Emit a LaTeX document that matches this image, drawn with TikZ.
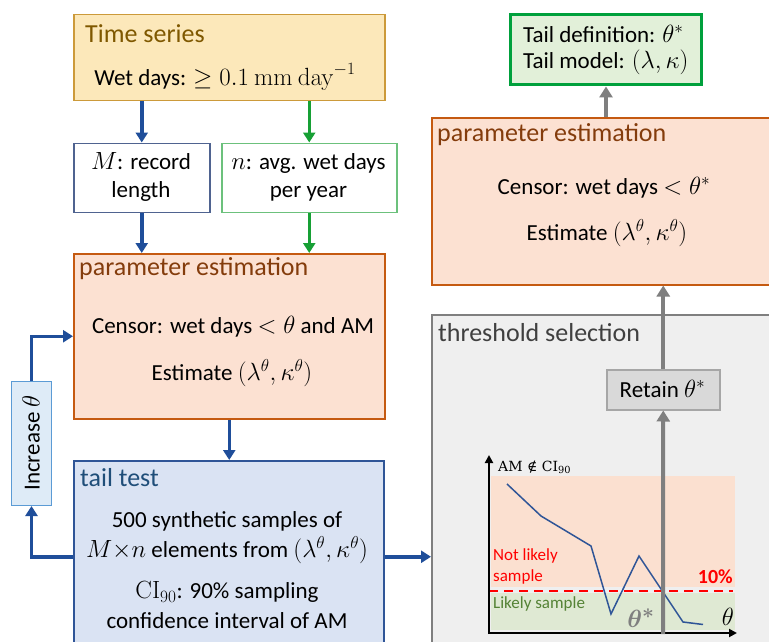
\documentclass[tikz,border=0pt]{standalone}
\usepackage[no-math]{fontspec}
\setmainfont{Carlito}
\newfontfamily\dvserif{DejaVu Serif}
\DeclareMathSizes{23}{25.5}{18}{14}
\usetikzlibrary{arrows.meta}
\definecolor{tsfill}{HTML}{FCE8BA}
\definecolor{tsdraw}{HTML}{CC9A3A}
\definecolor{tstext}{HTML}{7F5800}
\definecolor{pefill}{HTML}{FCE1D2}
\definecolor{pedraw}{HTML}{C55A11}
\definecolor{petext}{HTML}{843C0C}
\definecolor{ttfill}{HTML}{DAE3F3}
\definecolor{ttdraw}{HTML}{2F5597}
\definecolor{tttext}{HTML}{1F4E79}
\definecolor{incfill}{HTML}{DEEBF7}
\definecolor{incdraw}{HTML}{5B9BD5}
\definecolor{cblue}{HTML}{1F4E9A}
\definecolor{cgreen}{HTML}{17A035}
\definecolor{mdraw}{HTML}{4F6390}
\definecolor{ndraw}{HTML}{6CC17C}
\definecolor{gbfill}{HTML}{E2F0D9}
\definecolor{gbdraw}{HTML}{00A03C}
\definecolor{cgray}{HTML}{7F7F7F}
\definecolor{thfill}{HTML}{EFEFEF}
\definecolor{thtext}{HTML}{404040}
\definecolor{retfill}{HTML}{D9D9D9}
\definecolor{retdraw}{HTML}{A6A6A6}
\definecolor{pinkarea}{HTML}{FBE0D0}
\definecolor{greenarea}{HTML}{DFE9D3}
\definecolor{likelygreen}{HTML}{548235}
\definecolor{lineblue}{HTML}{2F5597}
\begin{document}
\begin{tikzpicture}[x=1pt,y=-1pt,
  box/.style={line width=1.5pt, inner sep=0pt, anchor=north west},
  txt/.style={font=\fontsize{23}{28}\selectfont, inner sep=0pt, align=center},
  ttl/.style={font=\fontsize{26}{29}\selectfont, inner sep=0pt, anchor=west},
  barrow/.style={draw=cblue, line width=3.5pt, -{Triangle[width=12pt,length=10pt]}},
  grarrow/.style={draw=cgreen, line width=3.5pt, -{Triangle[width=12pt,length=10pt]}},
  gyarrow/.style={draw=cgray, line width=4pt, -{Triangle[width=13pt,length=11pt]}},
  axarrow/.style={draw=black, line width=2pt, -{Triangle[width=8pt,length=8pt]}}]
\clip (0,0) rectangle (769,642);
\fill[white] (0,0) rectangle (769,642);

% ---- left column ----
\node[box, draw=tsdraw, fill=tsfill, minimum width=311pt, minimum height=86pt] (ts) at (73,14) {};
\node[ttl, text=tstext] (tst) at (85,34) {Time series};
\node[txt] (tsw) at (225,77) {Wet days: $\geq 0.1\ \mathrm{mm\ day}^{-1}$};

\node[box, draw=mdraw, fill=white, minimum width=136pt, minimum height=69pt] (mb) at (73,142.5) {};
\node[txt] (mbt) at (141,177) {$M$: record\\length};
\node[box, draw=ndraw, fill=white, minimum width=175pt, minimum height=69pt] (nb) at (221,142.5) {};
\node[txt] (nbt) at (308.5,177) {$n$: avg. wet days\\per year};

\node[box, draw=pedraw, fill=pefill, minimum width=311pt, minimum height=165pt] (pe) at (73,253) {};
\node[ttl, text=petext] (pet) at (79,269) {parameter estimation};
\node[txt] (pe1) at (233,327) {Censor: wet days $<\theta$ and AM};
\node[txt] (pe2) at (232,373) {Estimate $(\lambda^{\theta},\kappa^{\theta})$};

\node[box, draw=ttdraw, fill=ttfill, minimum width=310pt, minimum height=192pt] (tt) at (73,460) {};
\node[ttl, text=tttext] (ttt) at (80,478) {tail test};
\node[txt] (tt1) at (227,521) {500 synthetic samples of};
\node[txt] (tt2) at (227,550) {$M{\times}n$ elements from $(\lambda^{\theta},\kappa^{\theta})$};
\node[txt] (tt3) at (227,592) {$\mathrm{CI}_{90}$: 90\% sampling};
\node[txt] (tt4) at (227,621) {confidence interval of AM};

\node[box, draw=incdraw, fill=incfill, line width=1pt, minimum width=40pt, minimum height=124pt] (inc) at (11,381) {};
\node[txt, rotate=90] (inct) at (31,443) {Increase $\theta$};

% ---- right column ----
\node[box, draw=gbdraw, fill=gbfill, line width=3pt, minimum width=191pt, minimum height=70pt] (gb) at (509,13.5) {};
\node[txt, anchor=west] (gb1) at (523,34) {Tail definition: $\theta^{*}$};
\node[txt, anchor=west] (gb2) at (523,62) {Tail model: $(\lambda,\kappa)$};

\node[box, draw=pedraw, fill=pefill, minimum width=400pt, minimum height=167pt] (pr) at (431,117) {};
\node[ttl, text=petext] (prt) at (437,135) {parameter estimation};
\node[txt] (pr1) at (604,188) {Censor: wet days $<\theta^{*}$};
\node[txt] (pr2) at (607,233) {Estimate $(\lambda^{\theta},\kappa^{\theta})$};

\node[box, draw=cgray, fill=thfill, minimum width=400pt, minimum height=400pt] (th) at (431,314) {};
\node[ttl, text=thtext] (tht) at (438,333) {threshold selection};

% chart
\fill[pinkarea] (491,476) rectangle (735,587);
\fill[greenarea] (491,593) rectangle (735,630);
\draw[red, line width=2pt, dash pattern=on 9pt off 6pt] (489,590.5) -- (733,590.5);
\draw[lineblue, line width=1.5pt] (507,484) -- (541,516) -- (591,546) -- (611,614) -- (639,556) -- (683,622) -- (703,624.5);
\draw[axarrow] (489,634) -- (489,455);
\draw[axarrow] (488,633) -- (737,633);
\node[font=\fontsize{14}{17}\dvserif, inner sep=0pt, anchor=west] (aml) at (498,467) {AM ∉ CI\textsubscript{90}};
\node[font=\fontsize{17}{21}\selectfont, inner sep=0pt, anchor=west, text=red] (nl1) at (493,556) {Not likely};
\node[font=\fontsize{17}{21}\selectfont, inner sep=0pt, anchor=west, text=red] (nl2) at (493,577) {sample};
\node[font=\fontsize{20}{23}\selectfont\bfseries, inner sep=0pt, anchor=east, text=red] (ten) at (733,577) {10\%};
\node[font=\fontsize{17}{20}\selectfont, inner sep=0pt, anchor=west, text=likelygreen] (ls) at (493,604) {Likely sample};
\node[font=\fontsize{32}{34}\selectfont\boldmath, inner sep=0pt, text=cgray] (ths) at (641,618) {$\theta^{*}$};
\node[font=\fontsize{24}{26}\selectfont, inner sep=0pt] (thx) at (728,617) {$\theta$};

\node[box, draw=retdraw, fill=retfill, minimum width=113pt, minimum height=40pt] (ret) at (606,369) {};
\node[txt] (rett) at (662.5,389) {Retain $\theta^{*}$};

\coordinate (gbot) at (663,634);

% ---- connectors ----
\draw[barrow] (ts.south -| mb.north) -- (mb.north);
\draw[grarrow] (ts.south -| nb.north) -- (nb.north);
\draw[barrow] (mb.south) -- (pe.north -| mb.south);
\draw[grarrow] (nb.south) -- (pe.north -| nb.south);
\draw[barrow] (pe.south) -- (tt.north -| pe.south);
\draw[barrow] (tt.west) -| (inc.south);
\draw[barrow] (inc.north) |- (pe.west);
\draw[barrow] (tt.east) -- (th.west |- tt.east);
\draw[gyarrow] (gbot) -- (ret.south);
\draw[gyarrow] (ret.north) -- (pr.south -| ret.north);
\draw[gyarrow] (pr.north -| gb.south) -- (gb.south);
\end{tikzpicture}
\end{document}
